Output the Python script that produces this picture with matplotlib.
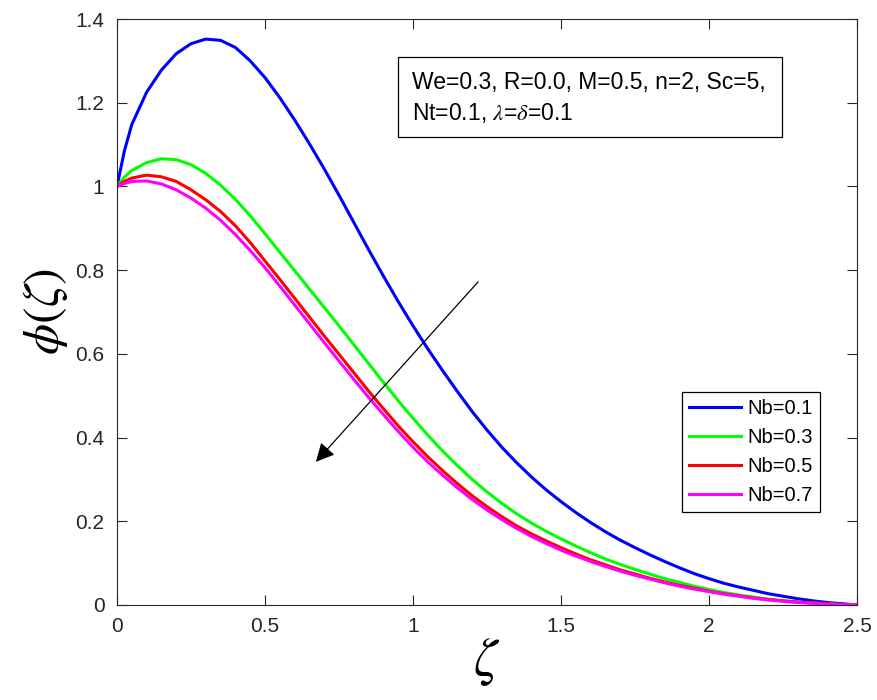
import matplotlib
matplotlib.use("Agg")
import matplotlib.pyplot as plt
from matplotlib.patches import Rectangle

# ---- data ----
zeta = [0.0, 0.025] + [round(0.05 * i, 2) for i in range(1, 51)]

phi_nb01 = [1.0, 1.085, 1.148, 1.225, 1.278, 1.317, 1.341, 1.352, 1.349, 1.332,
            1.30, 1.26, 1.212, 1.159, 1.102, 1.042, 0.979, 0.914, 0.849, 0.786,
            0.725, 0.667,
            0.612, 0.56, 0.51, 0.462, 0.418, 0.377, 0.34, 0.306, 0.275, 0.247,
            0.221, 0.197, 0.175, 0.155, 0.137, 0.12, 0.104, 0.089, 0.075, 0.063,
            0.052, 0.043, 0.035, 0.027, 0.021, 0.015, 0.01, 0.006, 0.003, 0.0]
phi_nb03 = [1.0, 1.022, 1.038, 1.057, 1.066, 1.064, 1.052, 1.031, 1.003, 0.969,
            0.93, 0.887, 0.843, 0.799, 0.755, 0.711, 0.667, 0.622, 0.577, 0.532,
            0.488, 0.446,
            0.406, 0.368, 0.333, 0.300, 0.270, 0.243, 0.218, 0.196, 0.176, 0.158,
            0.141, 0.125, 0.11, 0.097, 0.085, 0.074, 0.063, 0.054, 0.045, 0.037,
            0.03, 0.024, 0.019, 0.014, 0.01, 0.007, 0.005, 0.003, 0.001, 0.0]
phi_nb05 = [1.0, 1.012, 1.02, 1.027, 1.023, 1.012, 0.992, 0.968, 0.94, 0.906,
            0.866, 0.822, 0.778, 0.733, 0.688, 0.643, 0.599, 0.555, 0.511, 0.469,
            0.428, 0.39,
            0.354, 0.321, 0.29, 0.261, 0.235, 0.211, 0.189, 0.17, 0.153, 0.137,
            0.122, 0.108, 0.096, 0.084, 0.074, 0.064, 0.055, 0.047, 0.04, 0.033,
            0.027, 0.022, 0.017, 0.013, 0.01, 0.007, 0.005, 0.003, 0.001, 0.0]
phi_nb07 = [1.0, 1.007, 1.012, 1.013, 1.006, 0.992, 0.972, 0.948, 0.919, 0.885,
            0.847, 0.806, 0.762, 0.717, 0.672, 0.627, 0.583, 0.539, 0.496, 0.455,
            0.415, 0.377,
            0.342, 0.31, 0.28, 0.252, 0.227, 0.204, 0.183, 0.164, 0.147, 0.131,
            0.117, 0.104, 0.092, 0.081, 0.071, 0.062, 0.053, 0.045, 0.038, 0.032,
            0.026, 0.021, 0.016, 0.012, 0.009, 0.006, 0.004, 0.002, 0.001, 0.0]

series = [phi_nb01, phi_nb03, phi_nb05, phi_nb07]
labels = ["Nb=0.1", "Nb=0.3", "Nb=0.5", "Nb=0.7"]
colors = ["#0000ff", "#00ff00", "#ff0000", "#ff00ff"]

xticks = [0, 0.5, 1, 1.5, 2, 2.5]
xticklabels = ["0", "0.5", "1", "1.5", "2", "2.5"]
yticks = [0, 0.2, 0.4, 0.6, 0.8, 1.0, 1.2, 1.4]
yticklabels = ["0", "0.2", "0.4", "0.6", "0.8", "1", "1.2", "1.4"]

# ---- style ----
plt.rcParams['font.family'] = ['Liberation Sans', 'DejaVu Sans']
plt.rcParams['mathtext.fontset'] = 'stix'
axcol = "#262626"

fig = plt.figure(figsize=(8.78, 7.0), dpi=100)
ax = fig.add_axes([117 / 878, 95 / 700, 740 / 878, 586 / 700])

for y, lab, c in zip(series, labels, colors):
    ax.plot(zeta, y, color=c, lw=2.2, label=lab, solid_joinstyle='round')

ax.set_xlim(0, 2.5)
ax.set_ylim(0, 1.4)
ax.set_xticks(xticks)
ax.set_xticklabels(xticklabels)
ax.set_yticks(yticks)
ax.set_yticklabels(yticklabels)
ax.tick_params(direction='in', top=True, right=True, length=7, width=0.8,
               labelsize=15, colors=axcol, pad=9)
for s in ax.spines.values():
    s.set_color(axcol)
    s.set_linewidth(0.8)

ax.set_xlabel(r"$\zeta$", fontsize=38, labelpad=0)
ax.set_ylabel(r"$\phi(\zeta)$", fontsize=36, labelpad=4)

# parameter box
ax.add_patch(Rectangle((0.380, 0.799), 0.519, 0.1365, transform=ax.transAxes,
                       fill=True, facecolor='white', edgecolor='black', lw=0.9,
                       zorder=5))
ax.text(0.399, 0.880, "We=0.3, R=0.0, M=0.5, n=2, Sc=5,", transform=ax.transAxes,
        fontsize=16.5, va='baseline', ha='left', zorder=6)
ax.text(0.399, 0.8276, r"Nt=0.1, $\lambda$=$\delta$=0.1", transform=ax.transAxes,
        fontsize=16.5, va='baseline', ha='left', zorder=6)

# arrow showing increasing Nb
ax.annotate("", xy=(0.672, 0.342), xytext=(1.22, 0.772),
            arrowprops=dict(arrowstyle='-|>', color='black', lw=0.9,
                            mutation_scale=28, shrinkA=0, shrinkB=0))

leg = ax.legend(loc='upper right', bbox_to_anchor=(0.950, 0.3635),
                borderaxespad=0, fontsize=14.5, handlelength=2.6,
                handletextpad=0.3, labelspacing=0.5, borderpad=0.35,
                fancybox=False, framealpha=1)
leg.get_frame().set_edgecolor('black')
leg.get_frame().set_linewidth(0.9)

fig.savefig("out.png", dpi=100)
